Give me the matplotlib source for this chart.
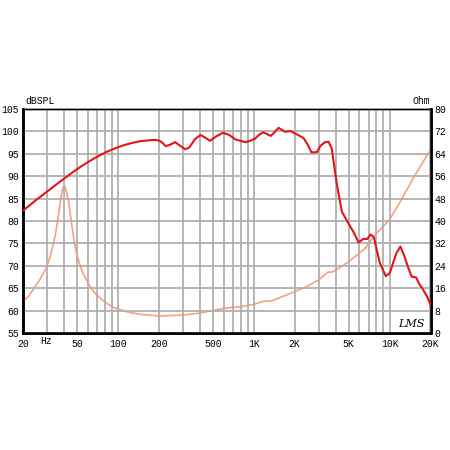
import matplotlib
matplotlib.use('Agg')
import matplotlib.pyplot as plt
from matplotlib.ticker import FixedLocator, NullLocator

# ============================================================
# DATA
# ============================================================

# SPL response (left axis, dB)
spl_freq = [20, 25, 30.8, 35, 40.3, 47, 54.3, 62, 71.9, 82, 95, 110, 126, 145, 168, 185,
            199, 210, 225, 245, 264, 290, 313, 335, 370, 405, 440, 476, 530, 593, 660,
            733, 868, 942, 1023, 1100, 1175, 1335, 1430, 1521, 1700, 1860, 2060, 2325,
            2500, 2660, 2920, 3100, 3350, 3550, 3750, 3900, 4080, 4450, 4970, 5500,
            5900, 6400, 6850, 7250, 7680, 8000, 8480, 9370, 10000, 10600, 11220, 12010,
            12900, 13700, 14520, 15670, 16500, 17370, 18920, 20000]
spl_db = [82.3, 84.7, 86.8, 88.1, 89.5, 91.0, 92.3, 93.4, 94.5, 95.4, 96.2, 96.9, 97.4, 97.8,
          98.0, 98.1, 98.0, 97.6, 96.7, 97.1, 97.6, 96.7, 96.0, 96.4, 98.3, 99.2, 98.6,
          97.9, 98.9, 99.7, 99.2, 98.2, 97.6, 97.9, 98.4, 99.3, 99.8, 99.0, 99.9, 100.8,
          99.9, 100.1, 99.4, 98.5, 97.0, 95.3, 95.4, 96.8, 97.6, 97.7, 96.2, 92.5, 88.4,
          82.1, 79.5, 77.2, 75.2, 76.0, 76.0, 77.0, 76.3, 73.8, 70.6, 67.7, 68.3, 70.6,
          72.8, 74.3, 72.0, 69.6, 67.6, 67.4, 66.0, 65.0, 63.1, 61.3]

# Impedance (right axis, Ohm)
imp_freq = [20, 22, 24.5, 27, 29.9, 32, 34.4, 36, 37.4, 38.5, 39.3, 40.0, 40.7, 41.5,
            43.1, 45, 47.1, 49, 51.1, 55, 60.5, 67, 76.5, 85, 95, 120, 150, 200, 300,
            400, 500, 600, 800, 1000, 1100, 1200, 1350, 1500, 2000, 2500, 3000, 3500,
            3800, 4300, 5000, 6500, 8000, 10000, 12000, 15000, 20000]
imp_ohm = [11.2, 13.2, 16.5, 19.6, 23.5, 28.0, 34.4, 40.0, 45.8, 49.8, 51.9, 52.5, 52.2,
           51.0, 47.5, 41.0, 34.4, 29.5, 26.1, 21.5, 17.7, 14.5, 11.8, 10.2, 8.9, 7.4,
           6.6, 6.1, 6.4, 7.1, 8.0, 8.8, 9.4, 10.2, 10.9, 11.4, 11.5, 12.3, 14.8, 16.8,
           18.9, 21.7, 21.8, 23.3, 25.5, 29.9, 35.6, 40.5, 47.0, 55.5, 65.5]

db_ticks = [55, 60, 65, 70, 75, 80, 85, 90, 95, 100, 105]
ohm_ticks = [0, 8, 16, 24, 32, 40, 48, 56, 64, 72, 80]
freq_ticks = [20, 50, 100, 200, 500, 1000, 2000, 5000, 10000, 20000]
freq_labels = ['20', '50', '100', '200', '500', '1K', '2K', '5K', '10K', '20K']

grid_freqs = ([f for f in range(20, 100, 10)] + [f for f in range(100, 1000, 100)]
              + [f for f in range(1000, 10000, 1000)] + [10000, 20000])

# ============================================================
# PLOT
# ============================================================

plt.rcParams['font.family'] = ['Liberation Mono', 'DejaVu Sans Mono']

fig = plt.figure(figsize=(4.5, 4.5), dpi=100)
ax = fig.add_axes([23 / 450, 1 - 333 / 450, 407.5 / 450, 224 / 450])

ax.set_xscale('log')
ax.set_xlim(20, 20000)
ax.set_ylim(55, 105)

for f in grid_freqs:
    ax.axvline(f, color='#b0b0b0', lw=1.3, zorder=1)
for d in db_ticks:
    ax.axhline(d, color='#b0b0b0', lw=1.3, zorder=1)

ax.xaxis.set_major_locator(FixedLocator(freq_ticks))
ax.set_xticklabels(freq_labels)
ax.xaxis.set_minor_locator(NullLocator())
ax.yaxis.set_major_locator(FixedLocator(db_ticks))
ax.tick_params(axis='y', length=0, labelsize=7, pad=3)
ax.tick_params(axis='x', length=0, labelsize=7, pad=4)

ax2 = ax.twinx()
ax2.set_ylim(0, 80)
ax2.yaxis.set_major_locator(FixedLocator(ohm_ticks))
ax2.tick_params(axis='y', length=0, labelsize=7, pad=3)

ax2.plot(imp_freq, imp_ohm, color='#f9a07c', lw=1.2, zorder=3)
ax.plot(spl_freq, spl_db, color='#e3141a', lw=1.5, zorder=4)
# put SPL above impedance
ax.set_zorder(ax2.get_zorder() + 1)
ax.patch.set_visible(False)

for spine in ['left', 'right', 'bottom']:
    ax.spines[spine].set_linewidth(1.8)
    ax2.spines[spine].set_linewidth(1.8)
ax.spines['top'].set_linewidth(1.0)
ax2.spines['top'].set_linewidth(1.0)

fig.text(25 / 450, 1 - 101 / 450, 'dBSPL', fontsize=7, va='center', ha='left')
fig.text(430 / 450, 1 - 101 / 450, 'Ohm', fontsize=7, va='center', ha='right')
fig.text(40 / 450, 1 - 341 / 450, 'Hz', fontsize=7, va='center', ha='left')
ax.text(0.985, 0.02, 'LMS', transform=ax.transAxes, fontsize=8, style='italic',
        family='DejaVu Serif', ha='right', va='bottom')

fig.savefig('out.png', dpi=100)
